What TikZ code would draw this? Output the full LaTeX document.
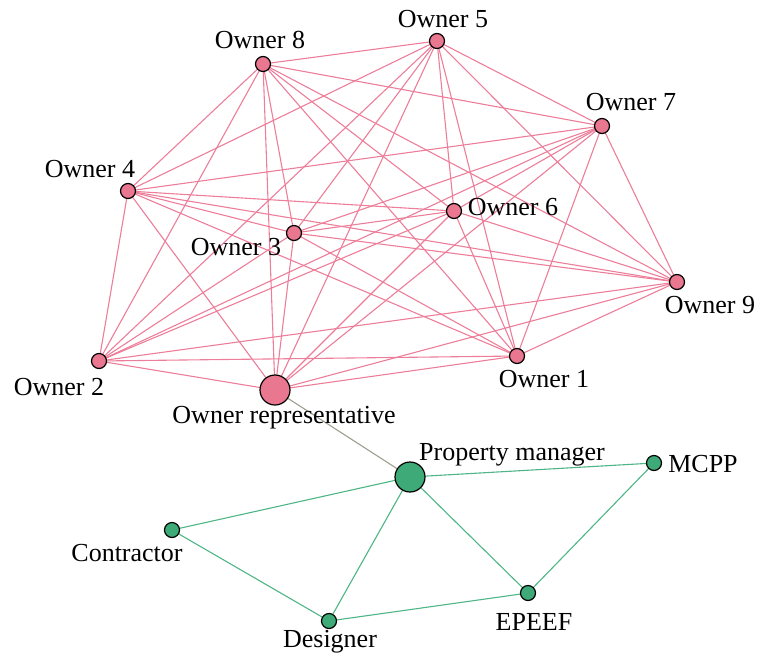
\documentclass[tikz,border=0pt]{standalone}
\usepackage{fontspec}
\setmainfont{Liberation Serif}
\usetikzlibrary{backgrounds}

\definecolor{ownerpink}{RGB}{234,119,144}
\definecolor{ownerline}{RGB}{236,126,153}
\definecolor{teamgreen}{RGB}{61,170,120}
\definecolor{teamline}{RGB}{78,182,134}
\definecolor{linkgrey}{RGB}{160,158,144}

\begin{document}
\begin{tikzpicture}[x=1pt,y=-1pt,
	owner/.style={circle,draw=black,line width=1.2pt,fill=ownerpink,inner sep=0pt,minimum size=15pt},
	team/.style={circle,draw=black,line width=1.2pt,fill=teamgreen,inner sep=0pt,minimum size=15pt},
	hub/.style={minimum size=30pt},
	lab/.style={inner sep=0pt,anchor=base,font=\fontsize{26}{30}\selectfont},
	ownedge/.style={draw=ownerline,line width=1.1pt},
	teamedge/.style={draw=teamline,line width=1.1pt}]
	\useasboundingbox (0,0) rectangle (757,659);

	% owners
	\node[owner] (o1) at (517,356) {};
	\node[owner] (o2) at (99,361) {};
	\node[owner] (o3) at (294,233) {};
	\node[owner] (o4) at (128,191) {};
	\node[owner] (o5) at (437,41) {};
	\node[owner] (o6) at (454,211) {};
	\node[owner] (o7) at (602,126) {};
	\node[owner] (o8) at (263,64) {};
	\node[owner] (o9) at (677,282) {};
	\node[owner,hub] (rep) at (275,390) {};

	% project team
	\node[team,hub] (pm) at (410,477) {};
	\node[team] (mcpp) at (654,463) {};
	\node[team] (con) at (172,530) {};
	\node[team] (des) at (329,621) {};
	\node[team] (epeef) at (528,593) {};

	% labels
	\node[lab] (lo1) at (544,387) {Owner 1};
	\node[lab] (lo2) at (59,395) {Owner 2};
	\node[lab] (lo3) at (236,255) {Owner 3};
	\node[lab] (lo4) at (90,177) {Owner 4};
	\node[lab] (lo5) at (443,27) {Owner 5};
	\node[lab] (lo6) at (513,215) {Owner 6};
	\node[lab] (lo7) at (631,110) {Owner 7};
	\node[lab] (lo8) at (260,48) {Owner 8};
	\node[lab] (lo9) at (710,313) {Owner 9};
	\node[lab] (lrep) at (284,423) {Owner representative};
	\node[lab] (lpm) at (512,460) {Property manager};
	\node[lab] (lmcpp) at (703,472) {MCPP};
	\node[lab] (lcon) at (127,561) {Contractor};
	\node[lab] (ldes) at (330,647) {Designer};
	\node[lab] (lepeef) at (534,630) {EPEEF};

	\begin{pgfonlayer}{background}
		% every owner knows every other owner
		\foreach \i in {1,...,9}{
			\draw[ownedge] (o\i.center) -- (rep.center);
			\foreach \j in {\i,...,9}{
				\ifnum\j>\i
					\draw[ownedge] (o\i.center) -- (o\j.center);
				\fi
			}
		}
		\draw[draw=linkgrey,line width=1.1pt] (rep.center) -- (pm.center);
		\foreach \a/\b in {pm/mcpp,pm/con,pm/des,pm/epeef,mcpp/epeef,con/des,des/epeef}
			\draw[teamedge] (\a.center) -- (\b.center);
	\end{pgfonlayer}
\end{tikzpicture}
\end{document}
